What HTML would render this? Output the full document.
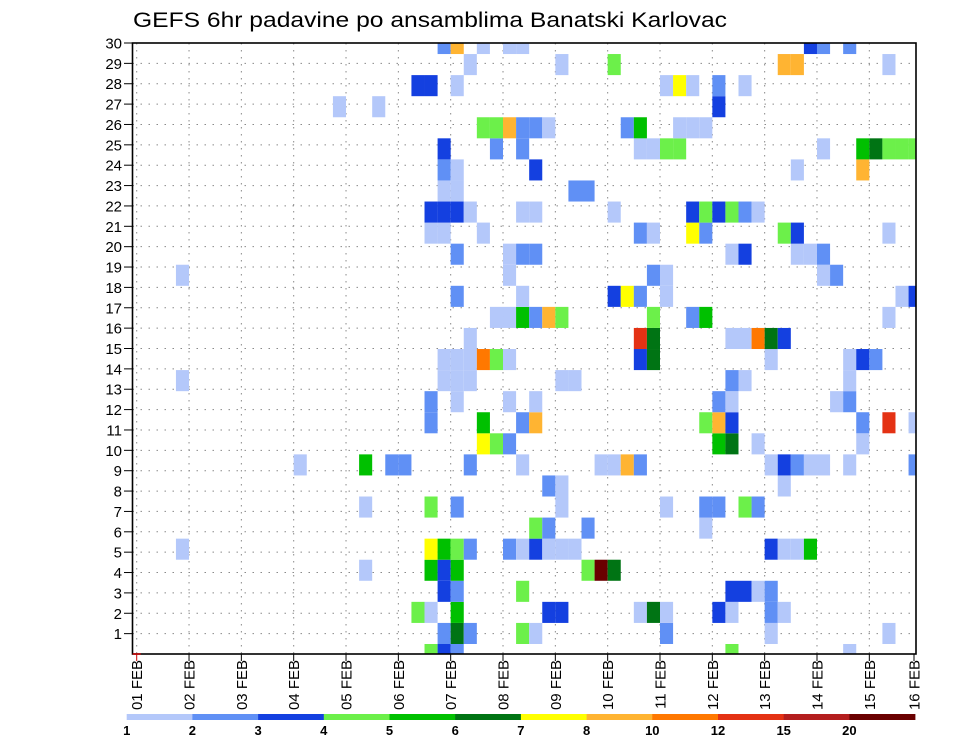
<!DOCTYPE html>
<html><head><meta charset="utf-8"><style>
html,body{margin:0;padding:0;background:#fff;}
svg{display:block;font-family:"Liberation Sans",sans-serif;}
</style></head><body>
<svg id="chart" width="960" height="742" viewBox="0 0 960 742" xmlns="http://www.w3.org/2000/svg">
<rect x="0" y="0" width="960" height="742" fill="#fff"/>
<text x="133" y="27" font-size="21" textLength="594" lengthAdjust="spacingAndGlyphs" fill="#000">GEFS 6hr padavine po ansamblima Banatski Karlovac</text>
<g id="grid"></g>
<g id="cells"></g>
<g id="axes"></g>
<g id="legend"></g>
</svg>
<script>
// ---- data ----
const dayLabels = ["01 FEB","02 FEB","03 FEB","04 FEB","05 FEB","06 FEB","07 FEB","08 FEB","09 FEB","10 FEB","11 FEB","12 FEB","13 FEB","14 FEB","15 FEB","16 FEB"];
const memberLabels = [1,2,3,4,5,6,7,8,9,10,11,12,13,14,15,16,17,18,19,20,21,22,23,24,25,26,27,28,29,30];
const legendLevels = [1,2,3,4,5,6,7,8,10,12,15,20];
const legendColors = ["#b4c8fa","#6090f5","#1440e0","#6cf04a","#00c000","#007414","#ffff00","#ffb432","#ff7800","#e43214","#b41e1e","#6a0000"];
// per ensemble row (index 0 = bottom): "timeStep:precip_mm"
const precipRows = [
"22:4.5 23:3.5 24:2.5 45:4.5 54:1.5",
"23:2.5 24:6.5 25:2.5 29:4.5 30:1.5 40:2.5 48:1.5 57:1.5",
"21:4.5 22:1.5 24:5.5 31:3.5 32:3.5 38:1.5 39:6.5 40:1.5 44:3.5 45:1.5 48:2.5 49:1.5",
"23:3.5 24:2.5 29:4.5 45:3.5 46:3.5 47:1.5 48:2.5",
"17:1.5 22:5.5 23:3.5 24:5.5 34:4.5 35:22 36:6.5",
"3:1.5 22:7.5 23:5.5 24:4.5 25:2.5 28:2.5 29:1.5 30:3.5 31:1.5 32:1.5 33:1.5 48:3.5 49:1.5 50:1.5 51:5.5",
"30:4.5 31:2.5 34:2.5 43:1.5",
"17:1.5 22:4.5 24:2.5 32:1.5 40:1.5 43:2.5 44:2.5 46:4.5 47:2.5",
"31:2.5 32:1.5 49:1.5",
"12:1.5 17:5.5 19:2.5 20:2.5 25:2.5 29:1.5 35:1.5 36:1.5 37:9 38:2.5 48:1.5 49:3.5 50:2.5 51:1.5 52:1.5 54:1.5 59:2.5",
"26:7.5 27:4.5 28:2.5 44:5.5 45:6.5 47:1.5 55:1.5",
"22:2.5 26:5.5 29:2.5 30:9 43:4.5 44:9 45:3.5 55:2.5 57:13.5 59:1.5",
"22:2.5 24:1.5 28:1.5 30:1.5 44:2.5 45:1.5 53:1.5 54:2.5",
"3:1.5 23:1.5 24:1.5 25:1.5 32:1.5 33:1.5 45:2.5 46:1.5 54:1.5",
"23:1.5 24:1.5 25:1.5 26:11 27:4.5 28:1.5 38:3.5 39:6.5 48:1.5 54:1.5 55:3.5 56:2.5",
"25:1.5 38:13.5 39:6.5 45:1.5 46:1.5 47:11 48:6.5 49:3.5",
"27:1.5 28:1.5 29:5.5 30:2.5 31:9 32:4.5 39:4.5 42:2.5 43:5.5 57:1.5",
"24:2.5 29:1.5 36:3.5 37:7.5 38:2.5 40:1.5 58:1.5 59:3.5",
"3:1.5 28:1.5 39:2.5 40:1.5 52:1.5 53:2.5",
"24:2.5 28:1.5 29:2.5 30:2.5 45:1.5 46:3.5 50:1.5 51:1.5 52:2.5",
"22:1.5 23:1.5 26:1.5 38:2.5 39:1.5 42:7.5 43:2.5 49:4.5 50:3.5 57:1.5",
"22:3.5 23:3.5 24:3.5 25:1.5 29:1.5 30:1.5 36:1.5 42:3.5 43:4.5 44:3.5 45:4.5 46:2.5 47:1.5",
"23:1.5 24:1.5 33:2.5 34:2.5",
"23:2.5 24:1.5 30:3.5 50:1.5 55:9",
"23:3.5 27:2.5 29:2.5 38:1.5 39:1.5 40:4.5 41:4.5 52:1.5 55:5.5 56:6.5 57:4.5 58:4.5 59:4.5",
"26:4.5 27:4.5 28:9 29:2.5 30:2.5 31:1.5 37:2.5 38:5.5 41:1.5 42:1.5 43:1.5",
"15:1.5 18:1.5 44:3.5",
"21:3.5 22:3.5 24:1.5 40:1.5 41:7.5 42:1.5 44:2.5 46:1.5",
"25:1.5 32:1.5 36:4.5 49:9 50:9 57:1.5",
"23:2.5 24:9 26:1.5 28:1.5 29:1.5 51:3.5 52:2.5 54:2.5"
];

// ---- geometry ----
const NS = "http://www.w3.org/2000/svg";
const L = 132.5, R = 916, T = 43, B = 654;
const x0 = 136.7, dayW = 52.33, stepW = dayW / 4;
const cellH = 21.07, cellBase = 644;
const labelStep = (B - T) / 30;
function xTime(step){ return x0 + step * stepW; }
function xDay(d){ return x0 + d * dayW; }
function yMember(m){ return B - m * labelStep; }
function yCellTop(r){ return cellBase - cellH * r; }
function colorFor(v){
  let idx = 0;
  for (let i = 0; i < legendLevels.length; i++) if (v >= legendLevels[i]) idx = i;
  return legendColors[idx];
}
function mk(tag, attrs, parent){
  const e = document.createElementNS(NS, tag);
  for (const k in attrs) e.setAttribute(k, attrs[k]);
  parent.appendChild(e); return e;
}

// grid
const grid = document.getElementById('grid');
memberLabels.forEach(m => {
  const ln = mk('line', {x1:L, x2:R, y1:yMember(m), y2:yMember(m), stroke:'#8a8a8a', 'stroke-width':1, 'stroke-dasharray':'1.5 6.5'}, grid);
  
  
});
dayLabels.forEach((d, i) => {
  const x = xDay(i); if (x > R) return;
  const ln = mk('line', {x1:x, x2:x, y1:T, y2:B, stroke:'#8a8a8a', 'stroke-width':1, 'stroke-dasharray':'1.5 5.5'}, grid);
  
  
});

// cells
const cells = document.getElementById('cells');
precipRows.forEach((row, r) => {
  row.trim().split(/\s+/).forEach(tok => {
    const parts = tok.split(':');
    const step = +parts[0], v = +parts[1];
    let xa = xTime(step), xb = xa + stepW;
    let ya = yCellTop(r), yb = ya + cellH;
    xa = Math.max(xa, L); xb = Math.min(xb, R);
    ya = Math.max(ya, T); yb = Math.min(yb, B);
    if (xb <= xa || yb <= ya) return;
    const c = mk('rect', {x:xa, y:ya, width:xb - xa, height:yb - ya, fill:colorFor(v)}, cells);
    
    
  });
});

// axes
const axes = document.getElementById('axes');
const frame = mk('rect', {x:L, y:T, width:R - L, height:B - T, fill:'none', stroke:'#000', 'stroke-width':1.6}, axes);


memberLabels.forEach(m => {
  const y = yMember(m);
  const tk = mk('line', {x1:124, x2:L, y1:y, y2:y, stroke:'#000', 'stroke-width':1}, axes);
  
  
  const t = mk('text', {x:122, y:y + 5.5, 'font-size':15, 'text-anchor':'end', fill:'#000'}, axes);
  t.textContent = String(m);
  
  
});
dayLabels.forEach((d, i) => {
  let x = xDay(i);
  if (i === dayLabels.length - 1) x = 914;
  const tk = mk('line', {x1:x, x2:x, y1:B, y2:B + 7, stroke: i === 0 ? '#c00' : '#000', 'stroke-width':1}, axes);
  
  
  const t = mk('text', {x:0, y:0, 'font-size':15, 'text-anchor':'end', fill:'#000', transform:'translate(' + (x + 5.5) + ',' + 660 + ') rotate(-90)'}, axes);
  t.textContent = d;
  
  
});
const redMark = mk('line', {x1:x0 - 4, x2:x0 + 4, y1:B, y2:B, stroke:'#c00', 'stroke-width':1.5}, axes);



// legend
const legend = document.getElementById('legend');
const lgX = 126.7, lgW = 65.7;
legendColors.forEach((col, i) => {
  const r = mk('rect', {x:lgX + i * lgW, y:714, width:lgW + 0.3, height:6, fill:col}, legend);
  
  
});
legendLevels.forEach((lv, i) => {
  const t = mk('text', {x:lgX + i * lgW, y:735, 'font-size':13, 'font-weight':'bold', 'text-anchor':'middle', fill:'#000'}, legend);
  t.textContent = lv;
  
  
});
</script>
</body></html>
